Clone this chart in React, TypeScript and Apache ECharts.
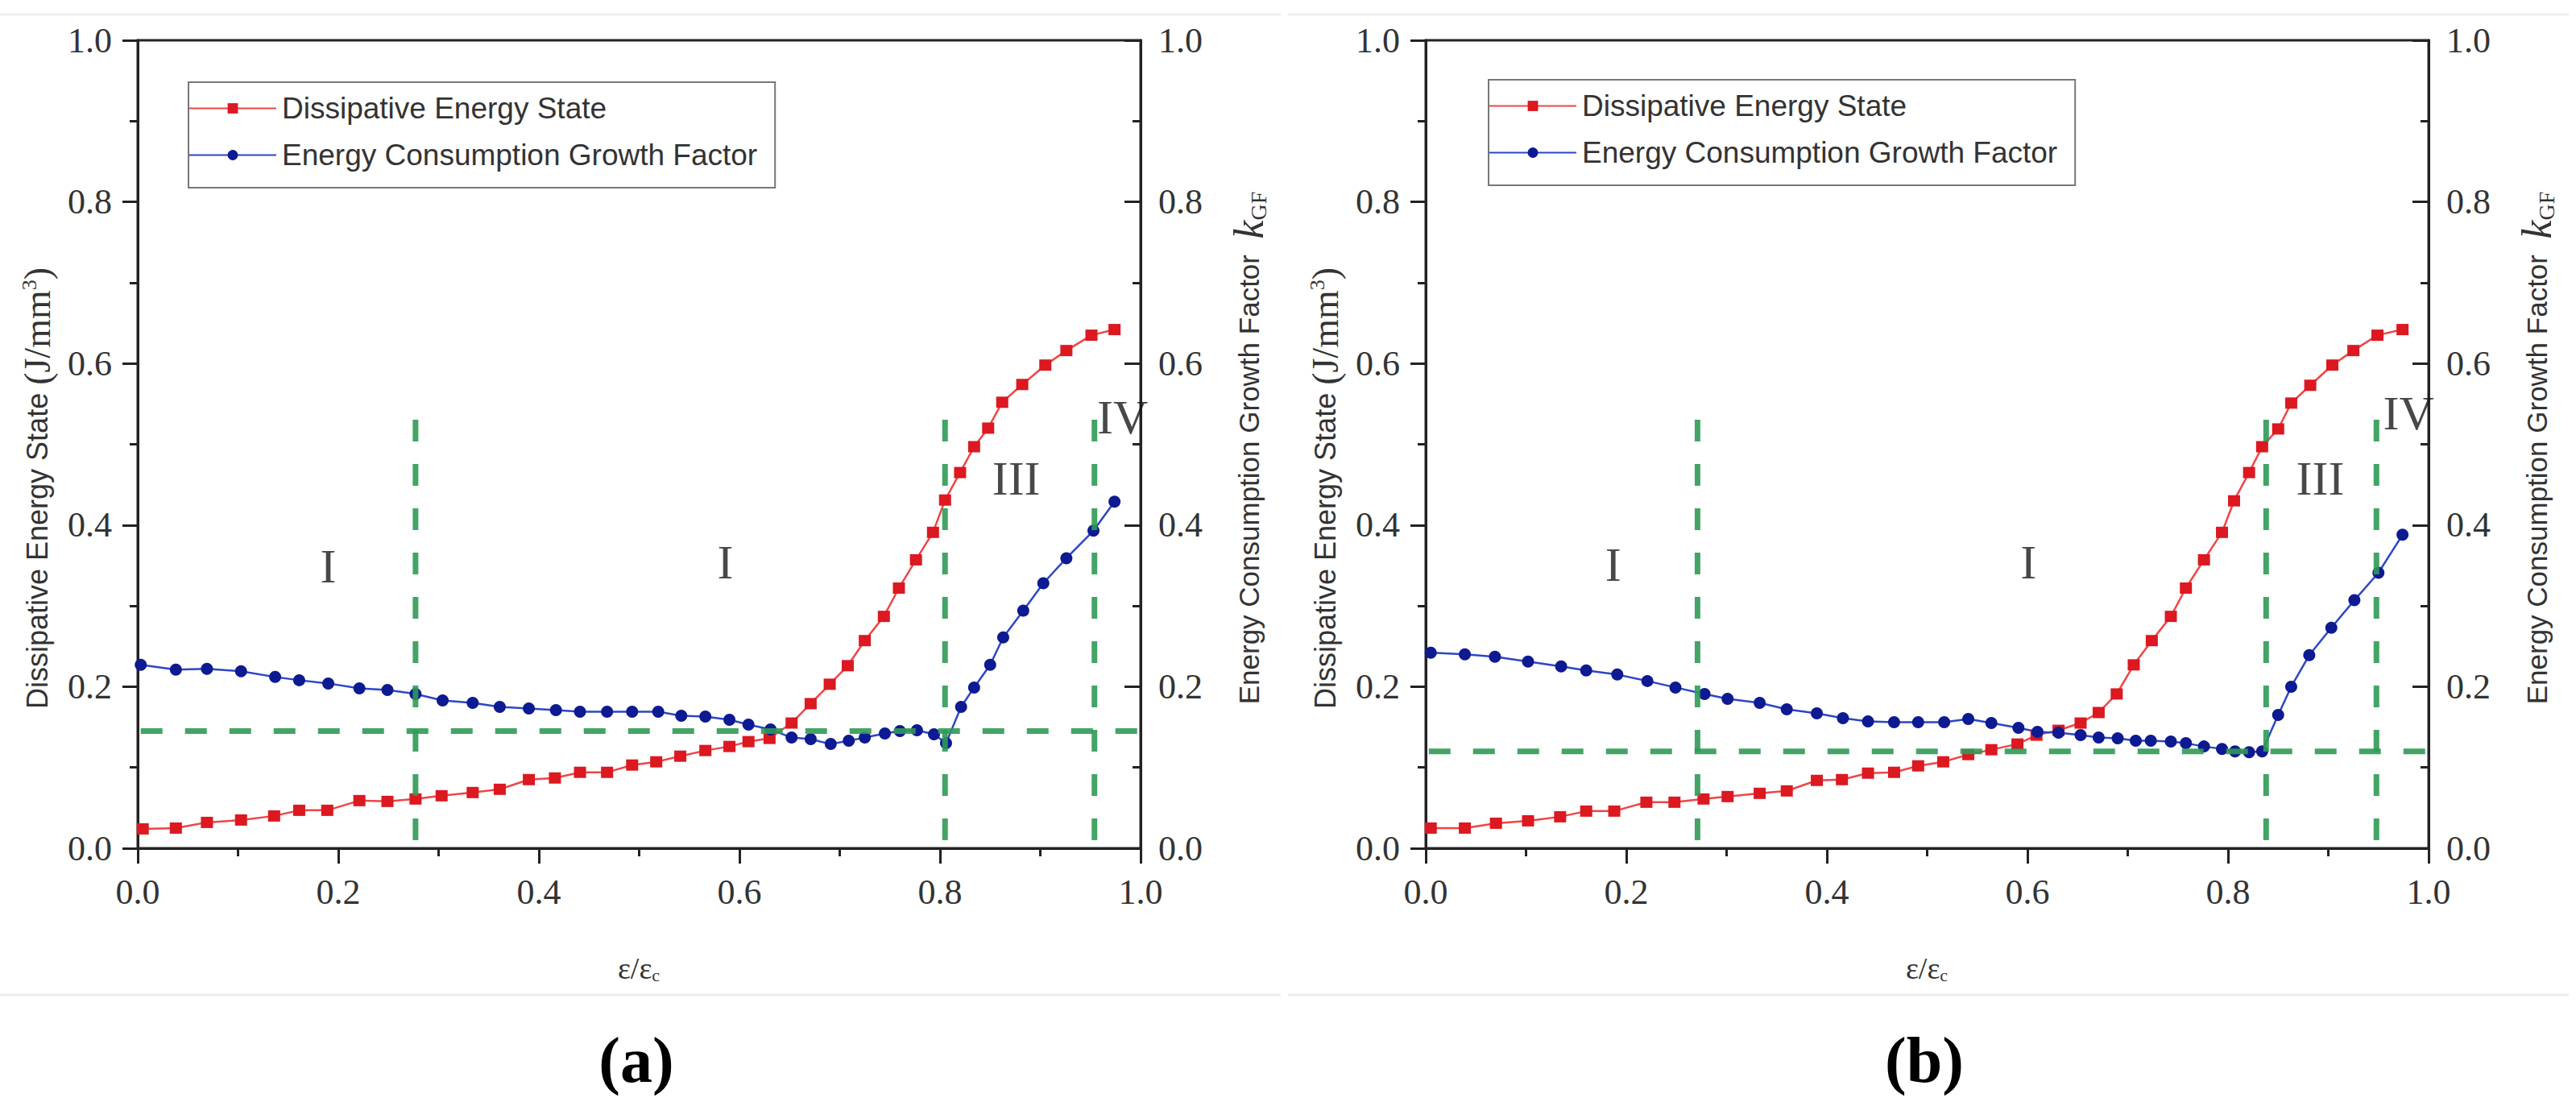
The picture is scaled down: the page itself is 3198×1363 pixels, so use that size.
import * as echarts from "echarts";
import { useEffect, useRef } from "react";

type Pt = [number, number];

const seriesNames = ["Dissipative Energy State", "Energy Consumption Growth Factor"];
const stageNames = ["I", "I", "III", "IV"];
const captions = ["(a)", "(b)"];

// panel (a)
const dissipA: Pt[] = [
  [0.005, 0.024], [0.038, 0.025], [0.069, 0.032], [0.103, 0.035], [0.136, 0.04], [0.161, 0.047],
  [0.189, 0.047], [0.221, 0.059], [0.249, 0.058], [0.277, 0.061], [0.303, 0.065], [0.334, 0.069],
  [0.361, 0.073], [0.39, 0.085], [0.416, 0.087], [0.441, 0.094], [0.468, 0.094], [0.493, 0.103],
  [0.517, 0.107], [0.541, 0.114], [0.566, 0.121], [0.59, 0.126], [0.609, 0.132], [0.63, 0.136],
  [0.652, 0.155], [0.671, 0.179], [0.69, 0.203], [0.708, 0.226], [0.725, 0.257], [0.744, 0.287],
  [0.759, 0.322], [0.776, 0.357], [0.793, 0.391], [0.805, 0.431], [0.82, 0.465], [0.834, 0.497],
  [0.848, 0.52], [0.862, 0.552], [0.882, 0.574], [0.905, 0.598], [0.926, 0.616], [0.951, 0.635],
  [0.974, 0.642],
];
const growthA: Pt[] = [
  [0.003, 0.227], [0.038, 0.221], [0.069, 0.222], [0.103, 0.219], [0.137, 0.212], [0.161, 0.208],
  [0.19, 0.204], [0.221, 0.198], [0.249, 0.196], [0.277, 0.191], [0.304, 0.183], [0.334, 0.18],
  [0.361, 0.175], [0.39, 0.173], [0.417, 0.171], [0.441, 0.169], [0.468, 0.169], [0.493, 0.169],
  [0.519, 0.169], [0.542, 0.164], [0.566, 0.163], [0.59, 0.159], [0.609, 0.153], [0.631, 0.147],
  [0.652, 0.137], [0.671, 0.135], [0.691, 0.129], [0.709, 0.133], [0.725, 0.137], [0.745, 0.142],
  [0.76, 0.145], [0.777, 0.146], [0.794, 0.141], [0.806, 0.13], [0.821, 0.175], [0.834, 0.199],
  [0.85, 0.227], [0.863, 0.261], [0.883, 0.294], [0.903, 0.328], [0.926, 0.359], [0.953, 0.393],
  [0.974, 0.429],
];
const stagesA = [0.277, 0.805, 0.954];
const thresholdA = 0.145;
const labelPosA: Pt[] = [[0.19, 0.349], [0.586, 0.354], [0.876, 0.458], [0.982, 0.533]];

// panel (b)
const dissipB: Pt[] = [
  [0.005, 0.025], [0.039, 0.025], [0.07, 0.031], [0.102, 0.034], [0.134, 0.039], [0.16, 0.046],
  [0.188, 0.046], [0.22, 0.057], [0.248, 0.057], [0.277, 0.061], [0.301, 0.064], [0.333, 0.068],
  [0.36, 0.071], [0.39, 0.084], [0.415, 0.085], [0.441, 0.093], [0.467, 0.094], [0.491, 0.102],
  [0.516, 0.107], [0.541, 0.116], [0.564, 0.122], [0.59, 0.129], [0.609, 0.14], [0.631, 0.146],
  [0.653, 0.155], [0.671, 0.168], [0.689, 0.191], [0.706, 0.227], [0.724, 0.257], [0.743, 0.287],
  [0.758, 0.322], [0.776, 0.357], [0.794, 0.391], [0.806, 0.43], [0.821, 0.465], [0.834, 0.497],
  [0.85, 0.519], [0.863, 0.551], [0.882, 0.573], [0.904, 0.598], [0.925, 0.616], [0.949, 0.635],
  [0.974, 0.642],
];
const growthB: Pt[] = [
  [0.005, 0.242], [0.039, 0.24], [0.069, 0.237], [0.102, 0.231], [0.135, 0.225], [0.16, 0.22],
  [0.191, 0.215], [0.221, 0.207], [0.249, 0.199], [0.278, 0.191], [0.301, 0.185], [0.333, 0.18],
  [0.36, 0.172], [0.39, 0.167], [0.416, 0.161], [0.441, 0.157], [0.467, 0.156], [0.491, 0.156],
  [0.517, 0.156], [0.541, 0.16], [0.564, 0.155], [0.591, 0.149], [0.61, 0.144], [0.631, 0.143],
  [0.653, 0.14], [0.671, 0.137], [0.69, 0.136], [0.708, 0.133], [0.723, 0.133], [0.743, 0.132],
  [0.758, 0.13], [0.776, 0.126], [0.794, 0.123], [0.807, 0.12], [0.821, 0.119], [0.834, 0.12],
  [0.85, 0.165], [0.863, 0.2], [0.881, 0.239], [0.903, 0.273], [0.926, 0.307], [0.95, 0.341],
  [0.974, 0.388],
];
const stagesB = [0.271, 0.838, 0.948];
const thresholdB = 0.12;
const labelPosB: Pt[] = [[0.187, 0.351], [0.601, 0.354], [0.892, 0.458], [0.98, 0.538]];

// extent of the green guide lines
const stageSpan: Pt = [0.01, 0.54];
const thresholdSpan: Pt = [0.003, 1.012];

const AXIS = "#222";
const TEXT = "#333";
const GREEN = "#2f9a55";
const SERIF = "Liberation Serif, Times New Roman, serif";
const SANS = "Liberation Sans, Arial, sans-serif";

interface PanelProps {
  left: number;
  dissip: Pt[];
  growth: Pt[];
  stages: number[];
  threshold: number;
  labelPos: Pt[];
  caption: string;
  legendLeft: number;
  legendTop: number;
}

function tickLabel(margin: number) {
  return {
    fontFamily: SERIF,
    fontSize: 44,
    color: TEXT,
    margin,
    showMinLabel: true,
    showMaxLabel: true,
    formatter: (v: number) => v.toFixed(1),
  };
}

function valueAxis(extra: object) {
  return {
    type: "value",
    min: 0,
    max: 1,
    interval: 0.2,
    axisLine: { show: true, onZero: false, lineStyle: { color: AXIS, width: 3 } },
    axisTick: { show: true, length: 19, lineStyle: { color: AXIS, width: 3 } },
    minorTick: { show: true, splitNumber: 2, length: 10, lineStyle: { color: AXIS, width: 3 } },
    splitLine: { show: false },
    axisLabel: tickLabel(32),
    ...extra,
  };
}

function Panel(p: PanelProps) {
  const ref = useRef<HTMLDivElement | null>(null);

  useEffect(() => {
    if (!ref.current) {
      return;
    }
    const chart = echarts.init(ref.current, undefined, { renderer: "svg" });

    const guide = (data: Pt[]) => ({
      type: "line",
      data,
      symbol: "none",
      clip: false,
      silent: true,
      z: 5,
      lineStyle: { color: GREEN, width: 7, type: [27, 28], opacity: 0.9 },
    });

    chart.setOption({
      animation: false,
      backgroundColor: "#fff",
      grid: {
        left: 171,
        top: 50,
        width: 1245,
        height: 1003,
        show: true,
        borderColor: AXIS,
        borderWidth: 3,
      },
      legend: {
        data: seriesNames,
        orient: "vertical",
        left: p.legendLeft,
        top: p.legendTop,
        padding: [14, 22, 22, 0],
        itemWidth: 108,
        itemHeight: 16,
        itemGap: 21,
        borderColor: "#777",
        borderWidth: 2,
        textStyle: { fontFamily: SANS, fontSize: 37, color: TEXT, padding: [0, 0, 0, 2] },
      },
      xAxis: valueAxis({ position: "bottom" }),
      yAxis: [
        valueAxis({ position: "left" }),
        valueAxis({
          position: "right",
          axisTick: { show: true, inside: true, length: 20, lineStyle: { color: AXIS, width: 3 } },
          axisLabel: tickLabel(22),
        }),
      ],
      series: [
        {
          name: seriesNames[0],
          type: "line",
          data: p.dissip,
          symbol: "rect",
          symbolSize: [15, 14],
          z: 3,
          lineStyle: { color: "#f04545", width: 2.5 },
          itemStyle: { color: "#dc1820" },
        },
        {
          name: seriesNames[1],
          type: "line",
          yAxisIndex: 1,
          data: p.growth,
          symbol: "circle",
          symbolSize: 15,
          z: 3,
          lineStyle: { color: "#2c46c8", width: 2.5 },
          itemStyle: { color: "#0d1a92" },
        },
        ...p.stages.map((x) => guide([[x, stageSpan[0]], [x, stageSpan[1]]])),
        guide([[thresholdSpan[0], p.threshold], [thresholdSpan[1], p.threshold]]),
        {
          type: "scatter",
          data: p.labelPos.map((pt, i) => [pt[0], pt[1], stageNames[i]]),
          symbolSize: 1,
          silent: true,
          z: 1,
          itemStyle: { color: "rgba(0,0,0,0)" },
          label: {
            show: true,
            position: "inside",
            formatter: (d: any) => d.value[2],
            fontFamily: SERIF,
            fontSize: 60,
            color: "#1a1a1a",
          },
        },
      ],
      graphic: [
        {
          type: "line",
          z: -10,
          shape: { x1: 0, y1: 18, x2: 1590, y2: 18 },
          style: { stroke: "#f0f0f0", lineWidth: 3 },
        },
        {
          type: "line",
          z: -10,
          shape: { x1: 0, y1: 1235, x2: 1590, y2: 1235 },
          style: { stroke: "#ececec", lineWidth: 3 },
        },
        {
          type: "text",
          x: 46,
          y: 606,
          rotation: Math.PI / 2,
          style: {
            text: "{s|Dissipative Energy State }{p|(J/mm}{sup|3}{p|)}",
            align: "center",
            verticalAlign: "middle",
            rich: {
              s: { fontFamily: SANS, fontSize: 36, fill: TEXT },
              p: { fontFamily: SERIF, fontSize: 46, fill: TEXT },
              sup: { fontFamily: SERIF, fontSize: 26, fill: TEXT, verticalAlign: "top" },
            },
          },
        },
        {
          type: "text",
          x: 1550,
          y: 556,
          rotation: Math.PI / 2,
          style: {
            text: "{s|Energy Consumption Growth Factor  }{k|k}{sub|GF}",
            align: "center",
            verticalAlign: "middle",
            rich: {
              s: { fontFamily: SANS, fontSize: 35, fill: TEXT },
              k: { fontFamily: SERIF, fontSize: 52, fontStyle: "italic", fill: TEXT },
              sub: { fontFamily: SERIF, fontSize: 28, fill: TEXT, verticalAlign: "bottom" },
            },
          },
        },
        {
          type: "text",
          x: 793,
          y: 1202,
          style: {
            text: "{e|ε/ε}{sub|c}",
            align: "center",
            verticalAlign: "middle",
            rich: {
              e: { fontFamily: SERIF, fontSize: 38, fill: TEXT },
              sub: { fontFamily: SERIF, fontSize: 22, fill: TEXT, verticalAlign: "bottom" },
            },
          },
        },
        {
          type: "text",
          x: 790,
          y: 1316,
          style: {
            text: p.caption,
            align: "center",
            verticalAlign: "middle",
            fontFamily: SERIF,
            fontSize: 80,
            fontWeight: "bold",
            fill: "#000",
          },
        },
      ],
    });

    return () => {
      chart.dispose();
    };
  }, [p]);

  return (
    <div
      ref={ref}
      style={{ position: "absolute", left: p.left, top: 0, width: 1599, height: 1363 }}
    />
  );
}

const panelA: PanelProps = {
  left: 0,
  dissip: dissipA,
  growth: growthA,
  stages: stagesA,
  threshold: thresholdA,
  labelPos: labelPosA,
  caption: captions[0],
  legendLeft: 234,
  legendTop: 102,
};

const panelB: PanelProps = {
  left: 1599,
  dissip: dissipB,
  growth: growthB,
  stages: stagesB,
  threshold: thresholdB,
  labelPos: labelPosB,
  caption: captions[1],
  legendLeft: 249,
  legendTop: 99,
};

export default function App() {
  return (
    <div
      style={{
        position: "fixed",
        left: 0,
        top: 0,
        width: 3198,
        height: 1363,
        background: "#fff",
        overflow: "hidden",
      }}
    >
      <Panel {...panelA} />
      <Panel {...panelB} />
    </div>
  );
}
